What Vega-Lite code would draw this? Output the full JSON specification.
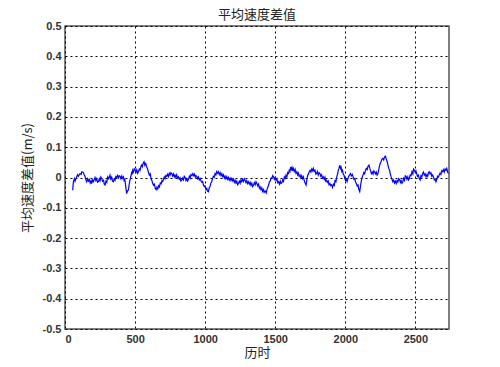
{
"$schema":"https://vega.github.io/schema/vega-lite/v6.json",
"autosize":{"type":"none"},
"width":384,"height":303,
"padding":{"left":65,"top":26,"right":51,"bottom":38},
"background":"white",
"title":{"text":"平均速度差值","font":"Noto Sans CJK SC","fontSize":13,"fontWeight":"normal","color":"#222","offset":6,"dy":8},
"config":{"view":{"stroke":"#555","strokeWidth":1.5}},
"data":{"values":[
{"t":55,"v":-0.042},{"t":57,"v":-0.03},{"t":60,"v":-0.014},{"t":68,"v":-0.004},{"t":72,"v":-0.012},{"t":83,"v":0.002},{"t":90,"v":0.009},{"t":95,"v":0.004},{"t":107,"v":0.013},{"t":115,"v":0.01},{"t":120,"v":0.019},{"t":131,"v":0.017},{"t":137,"v":0.008},{"t":143,"v":0.004},{"t":149,"v":-0.008},{"t":155,"v":-0.014},{"t":162,"v":-0.004},{"t":168,"v":-0.012},{"t":174,"v":-0.007},{"t":180,"v":-0.018},{"t":186,"v":-0.011},{"t":190,"v":-0.02},{"t":197,"v":-0.008},{"t":203,"v":-0.014},{"t":214,"v":0},{"t":220,"v":-0.01},{"t":226,"v":-0.004},{"t":232,"v":-0.016},{"t":238,"v":-0.014},{"t":245,"v":-0.004},{"t":250,"v":-0.011},{"t":256,"v":0.002},{"t":262,"v":-0.003},{"t":268,"v":-0.012},{"t":275,"v":-0.009},{"t":280,"v":-0.022},{"t":286,"v":-0.025},{"t":292,"v":-0.012},{"t":298,"v":-0.016},{"t":305,"v":0.002},{"t":312,"v":-0.004},{"t":321,"v":0.008},{"t":327,"v":-0.005},{"t":333,"v":0.001},{"t":339,"v":-0.012},{"t":345,"v":-0.014},{"t":351,"v":-0.004},{"t":357,"v":-0.009},{"t":363,"v":0.003},{"t":369,"v":0},{"t":375,"v":0.007},{"t":381,"v":-0.001},{"t":387,"v":0.006},{"t":393,"v":0.004},{"t":399,"v":-0.004},{"t":405,"v":0.005},{"t":411,"v":-0.003},{"t":417,"v":0.002},{"t":422,"v":-0.01},{"t":427,"v":-0.006},{"t":431,"v":-0.02},{"t":435,"v":-0.036},{"t":440,"v":-0.053},{"t":446,"v":-0.044},{"t":452,"v":-0.042},{"t":457,"v":-0.026},{"t":462,"v":-0.012},{"t":469,"v":0.002},{"t":475,"v":0.015},{"t":479,"v":0.01},{"t":483,"v":0.024},{"t":489,"v":0.018},{"t":494,"v":0.029},{"t":500,"v":0.026},{"t":506,"v":0.017},{"t":512,"v":0.025},{"t":518,"v":0.014},{"t":524,"v":0.019},{"t":530,"v":0.028},{"t":536,"v":0.024},{"t":542,"v":0.037},{"t":547,"v":0.041},{"t":552,"v":0.036},{"t":558,"v":0.048},{"t":564,"v":0.052},{"t":570,"v":0.04},{"t":576,"v":0.046},{"t":583,"v":0.035},{"t":589,"v":0.028},{"t":595,"v":0.018},{"t":602,"v":0.008},{"t":608,"v":0.012},{"t":614,"v":-0.004},{"t":620,"v":-0.01},{"t":626,"v":-0.02},{"t":632,"v":-0.026},{"t":638,"v":-0.022},{"t":644,"v":-0.036},{"t":650,"v":-0.04},{"t":656,"v":-0.032},{"t":662,"v":-0.038},{"t":668,"v":-0.027},{"t":674,"v":-0.031},{"t":680,"v":-0.018},{"t":686,"v":-0.021},{"t":692,"v":-0.01},{"t":697,"v":-0.013},{"t":702,"v":-0.007},{"t":708,"v":0.002},{"t":714,"v":-0.004},{"t":720,"v":0.007},{"t":726,"v":0.004},{"t":732,"v":0.011},{"t":738,"v":0.003},{"t":744,"v":0.014},{"t":750,"v":0.008},{"t":756,"v":0.016},{"t":762,"v":0.013},{"t":768,"v":0.005},{"t":774,"v":0.012},{"t":780,"v":0.002},{"t":785,"v":0.008},{"t":791,"v":0.001},{"t":797,"v":0.009},{"t":803,"v":-0.002},{"t":809,"v":0.002},{"t":815,"v":-0.006},{"t":821,"v":-0.001},{"t":827,"v":-0.012},{"t":833,"v":-0.009},{"t":839,"v":-0.002},{"t":845,"v":-0.008},{"t":851,"v":0.004},{"t":857,"v":0},{"t":863,"v":-0.01},{"t":869,"v":-0.004},{"t":875,"v":-0.012},{"t":881,"v":-0.007},{"t":887,"v":0.004},{"t":893,"v":-0.002},{"t":899,"v":0.01},{"t":906,"v":0.006},{"t":912,"v":0.013},{"t":918,"v":0.006},{"t":924,"v":0.011},{"t":930,"v":0.001},{"t":935,"v":0.006},{"t":940,"v":0.004},{"t":946,"v":-0.004},{"t":952,"v":0.002},{"t":958,"v":-0.008},{"t":964,"v":-0.003},{"t":970,"v":-0.011},{"t":976,"v":-0.016},{"t":982,"v":-0.013},{"t":988,"v":-0.025},{"t":994,"v":-0.03},{"t":1000,"v":-0.028},{"t":1006,"v":-0.04},{"t":1012,"v":-0.036},{"t":1017,"v":-0.045},{"t":1023,"v":-0.047},{"t":1029,"v":-0.034},{"t":1035,"v":-0.03},{"t":1041,"v":-0.018},{"t":1047,"v":-0.014},{"t":1053,"v":-0.003},{"t":1059,"v":0.004},{"t":1065,"v":0.001},{"t":1071,"v":0.013},{"t":1077,"v":0.009},{"t":1083,"v":0.02},{"t":1089,"v":0.014},{"t":1095,"v":0.019},{"t":1101,"v":0.01},{"t":1107,"v":0.016},{"t":1113,"v":0.006},{"t":1119,"v":0.013},{"t":1125,"v":0.003},{"t":1131,"v":0.009},{"t":1137,"v":-0.002},{"t":1142,"v":0.004},{"t":1148,"v":-0.004},{"t":1154,"v":0.003},{"t":1160,"v":-0.006},{"t":1166,"v":0},{"t":1172,"v":-0.009},{"t":1178,"v":-0.002},{"t":1184,"v":-0.01},{"t":1190,"v":-0.003},{"t":1196,"v":-0.011},{"t":1202,"v":-0.005},{"t":1208,"v":-0.016},{"t":1214,"v":-0.009},{"t":1220,"v":-0.018},{"t":1226,"v":-0.012},{"t":1232,"v":-0.024},{"t":1238,"v":-0.02},{"t":1244,"v":-0.012},{"t":1250,"v":-0.019},{"t":1255,"v":-0.008},{"t":1261,"v":-0.014},{"t":1267,"v":-0.006},{"t":1273,"v":-0.013},{"t":1279,"v":-0.004},{"t":1285,"v":-0.009},{"t":1291,"v":-0.017},{"t":1297,"v":-0.01},{"t":1303,"v":-0.02},{"t":1309,"v":-0.014},{"t":1315,"v":-0.022},{"t":1321,"v":-0.016},{"t":1327,"v":-0.026},{"t":1333,"v":-0.019},{"t":1339,"v":-0.03},{"t":1345,"v":-0.025},{"t":1351,"v":-0.017},{"t":1357,"v":-0.024},{"t":1363,"v":-0.014},{"t":1369,"v":-0.02},{"t":1375,"v":-0.028},{"t":1381,"v":-0.022},{"t":1387,"v":-0.035},{"t":1392,"v":-0.031},{"t":1398,"v":-0.04},{"t":1404,"v":-0.034},{"t":1410,"v":-0.046},{"t":1416,"v":-0.04},{"t":1421,"v":-0.049},{"t":1428,"v":-0.044},{"t":1436,"v":-0.051},{"t":1441,"v":-0.04},{"t":1447,"v":-0.032},{"t":1453,"v":-0.025},{"t":1459,"v":-0.014},{"t":1465,"v":-0.011},{"t":1470,"v":-0.002},{"t":1476,"v":-0.003},{"t":1482,"v":0.006},{"t":1488,"v":0.002},{"t":1494,"v":-0.006},{"t":1500,"v":0},{"t":1506,"v":-0.009},{"t":1512,"v":-0.004},{"t":1518,"v":-0.017},{"t":1524,"v":-0.014},{"t":1530,"v":-0.022},{"t":1536,"v":-0.012},{"t":1541,"v":-0.02},{"t":1547,"v":-0.018},{"t":1553,"v":-0.008},{"t":1559,"v":-0.013},{"t":1565,"v":0.002},{"t":1571,"v":-0.003},{"t":1577,"v":0.008},{"t":1583,"v":0.001},{"t":1589,"v":0.016},{"t":1595,"v":0.013},{"t":1600,"v":0.024},{"t":1605,"v":0.02},{"t":1611,"v":0.035},{"t":1616,"v":0.027},{"t":1620,"v":0.033},{"t":1625,"v":0.022},{"t":1630,"v":0.03},{"t":1636,"v":0.02},{"t":1642,"v":0.027},{"t":1648,"v":0.014},{"t":1654,"v":0.019},{"t":1660,"v":0.009},{"t":1665,"v":0.015},{"t":1671,"v":0.004},{"t":1677,"v":0.008},{"t":1683,"v":-0.001},{"t":1689,"v":0.006},{"t":1695,"v":-0.004},{"t":1701,"v":0.002},{"t":1706,"v":-0.008},{"t":1710,"v":-0.014},{"t":1715,"v":-0.02},{"t":1720,"v":-0.025},{"t":1726,"v":-0.008},{"t":1732,"v":0.008},{"t":1737,"v":0.012},{"t":1743,"v":0.019},{"t":1749,"v":0.024},{"t":1755,"v":0.018},{"t":1761,"v":0.028},{"t":1767,"v":0.022},{"t":1772,"v":0.03},{"t":1778,"v":0.02},{"t":1784,"v":0.024},{"t":1790,"v":0.011},{"t":1795,"v":0.013},{"t":1801,"v":0.02},{"t":1807,"v":0.008},{"t":1813,"v":0.016},{"t":1819,"v":0.013},{"t":1825,"v":0.004},{"t":1831,"v":0.009},{"t":1837,"v":-0.002},{"t":1843,"v":0.002},{"t":1849,"v":-0.006},{"t":1855,"v":0.001},{"t":1860,"v":-0.012},{"t":1866,"v":-0.009},{"t":1872,"v":-0.016},{"t":1878,"v":-0.011},{"t":1884,"v":-0.024},{"t":1890,"v":-0.02},{"t":1896,"v":-0.027},{"t":1902,"v":-0.024},{"t":1909,"v":-0.033},{"t":1915,"v":-0.022},{"t":1921,"v":-0.026},{"t":1927,"v":-0.01},{"t":1933,"v":-0.014},{"t":1939,"v":0.002},{"t":1945,"v":0.012},{"t":1950,"v":0.024},{"t":1955,"v":0.03},{"t":1961,"v":0.041},{"t":1966,"v":0.03},{"t":1970,"v":0.034},{"t":1975,"v":0.02},{"t":1980,"v":0.024},{"t":1986,"v":0.01},{"t":1991,"v":0.008},{"t":1996,"v":-0.003},{"t":2002,"v":-0.01},{"t":2007,"v":-0.006},{"t":2013,"v":-0.014},{"t":2019,"v":-0.003},{"t":2025,"v":0.004},{"t":2031,"v":0.009},{"t":2037,"v":0.013},{"t":2043,"v":0.005},{"t":2050,"v":0.01},{"t":2056,"v":0.002},{"t":2062,"v":-0.006},{"t":2068,"v":-0.003},{"t":2073,"v":-0.015},{"t":2079,"v":-0.02},{"t":2085,"v":-0.028},{"t":2091,"v":-0.025},{"t":2097,"v":-0.04},{"t":2103,"v":-0.047},{"t":2108,"v":-0.03},{"t":2114,"v":-0.012},{"t":2120,"v":0},{"t":2126,"v":0.008},{"t":2132,"v":0.016},{"t":2138,"v":0.012},{"t":2144,"v":0.024},{"t":2150,"v":0.03},{"t":2156,"v":0.026},{"t":2162,"v":0.037},{"t":2169,"v":0.041},{"t":2175,"v":0.03},{"t":2181,"v":0.022},{"t":2186,"v":0.013},{"t":2192,"v":0.018},{"t":2198,"v":0.011},{"t":2204,"v":0.022},{"t":2209,"v":0.019},{"t":2215,"v":0.012},{"t":2221,"v":0.018},{"t":2227,"v":0.008},{"t":2233,"v":0.013},{"t":2238,"v":0.024},{"t":2243,"v":0.036},{"t":2249,"v":0.046},{"t":2255,"v":0.052},{"t":2261,"v":0.06},{"t":2268,"v":0.063},{"t":2274,"v":0.058},{"t":2280,"v":0.068},{"t":2287,"v":0.07},{"t":2293,"v":0.06},{"t":2299,"v":0.052},{"t":2305,"v":0.04},{"t":2310,"v":0.03},{"t":2316,"v":0.024},{"t":2321,"v":0.012},{"t":2327,"v":0.002},{"t":2333,"v":-0.006},{"t":2339,"v":-0.014},{"t":2345,"v":-0.008},{"t":2351,"v":-0.018},{"t":2357,"v":-0.012},{"t":2363,"v":-0.02},{"t":2369,"v":-0.01},{"t":2375,"v":-0.015},{"t":2381,"v":-0.004},{"t":2387,"v":-0.007},{"t":2393,"v":-0.016},{"t":2398,"v":-0.01},{"t":2404,"v":-0.019},{"t":2410,"v":-0.014},{"t":2416,"v":-0.003},{"t":2422,"v":-0.009},{"t":2428,"v":0.006},{"t":2434,"v":0.004},{"t":2440,"v":-0.006},{"t":2446,"v":0.002},{"t":2451,"v":-0.008},{"t":2457,"v":-0.003},{"t":2463,"v":0.008},{"t":2469,"v":0.006},{"t":2476,"v":0.019},{"t":2482,"v":0.012},{"t":2487,"v":0.028},{"t":2493,"v":0.024},{"t":2499,"v":0.017},{"t":2504,"v":0.022},{"t":2509,"v":0.013},{"t":2515,"v":0.004},{"t":2521,"v":0.008},{"t":2528,"v":-0.003},{"t":2534,"v":-0.008},{"t":2540,"v":0.006},{"t":2546,"v":0.002},{"t":2552,"v":0.013},{"t":2558,"v":0.018},{"t":2564,"v":0.008},{"t":2570,"v":0.012},{"t":2576,"v":0.002},{"t":2582,"v":0.009},{"t":2588,"v":0.004},{"t":2593,"v":0.016},{"t":2599,"v":0.019},{"t":2605,"v":0.012},{"t":2611,"v":0.016},{"t":2617,"v":0.004},{"t":2623,"v":0.008},{"t":2629,"v":0.002},{"t":2635,"v":-0.008},{"t":2641,"v":-0.005},{"t":2647,"v":-0.014},{"t":2653,"v":-0.006},{"t":2658,"v":0.004},{"t":2664,"v":0.001},{"t":2670,"v":0.008},{"t":2676,"v":0.014},{"t":2682,"v":0.01},{"t":2688,"v":0.022},{"t":2694,"v":0.019},{"t":2700,"v":0.026},{"t":2706,"v":0.018},{"t":2712,"v":0.028},{"t":2718,"v":0.024},{"t":2724,"v":0.03},{"t":2730,"v":0.018},{"t":2736,"v":0.013}
]},
"mark":{"type":"line","color":"#0000ff","strokeWidth":1.2,"clip":true},
"encoding":{
"x":{"field":"t","type":"quantitative","title":"历时",
 "scale":{"domain":[0,2740],"nice":false,"zero":false},
 "axis":{"values":[0,500,1000,1500,2000,2500],"format":"d","grid":true,"gridColor":"#000","gridDash":[2,3],"gridWidth":1,"ticks":false,"domain":false,
  "labelFont":"Liberation Sans","labelFontWeight":"bold","labelFontSize":11,"labelColor":"#333","labelPadding":4,
  "titleFont":"Noto Sans CJK SC","titleFontWeight":"normal","titleFontSize":13,"titleColor":"#222","titlePadding":2}},
"y":{"field":"v","type":"quantitative","title":"平均速度差值(m/s)",
 "scale":{"domain":[-0.5,0.5],"nice":false},
 "axis":{"values":[-0.5,-0.4,-0.3,-0.2,-0.1,0,0.1,0.2,0.3,0.4,0.5],"grid":true,"gridColor":"#000","gridDash":[2,3],"gridWidth":1,"ticks":false,"domain":false,
  "labelExpr":"datum.value == 0 ? '0' : replace(format(datum.value, '.1f'), '\u2212', '-')",
  "labelFont":"Liberation Sans","labelFontWeight":"bold","labelFontSize":11,"labelColor":"#333","labelPadding":4,
  "titleFont":"Noto Sans CJK SC","titleFontWeight":"normal","titleFontSize":13,"titleColor":"#222","titlePadding":8}}
}
}
